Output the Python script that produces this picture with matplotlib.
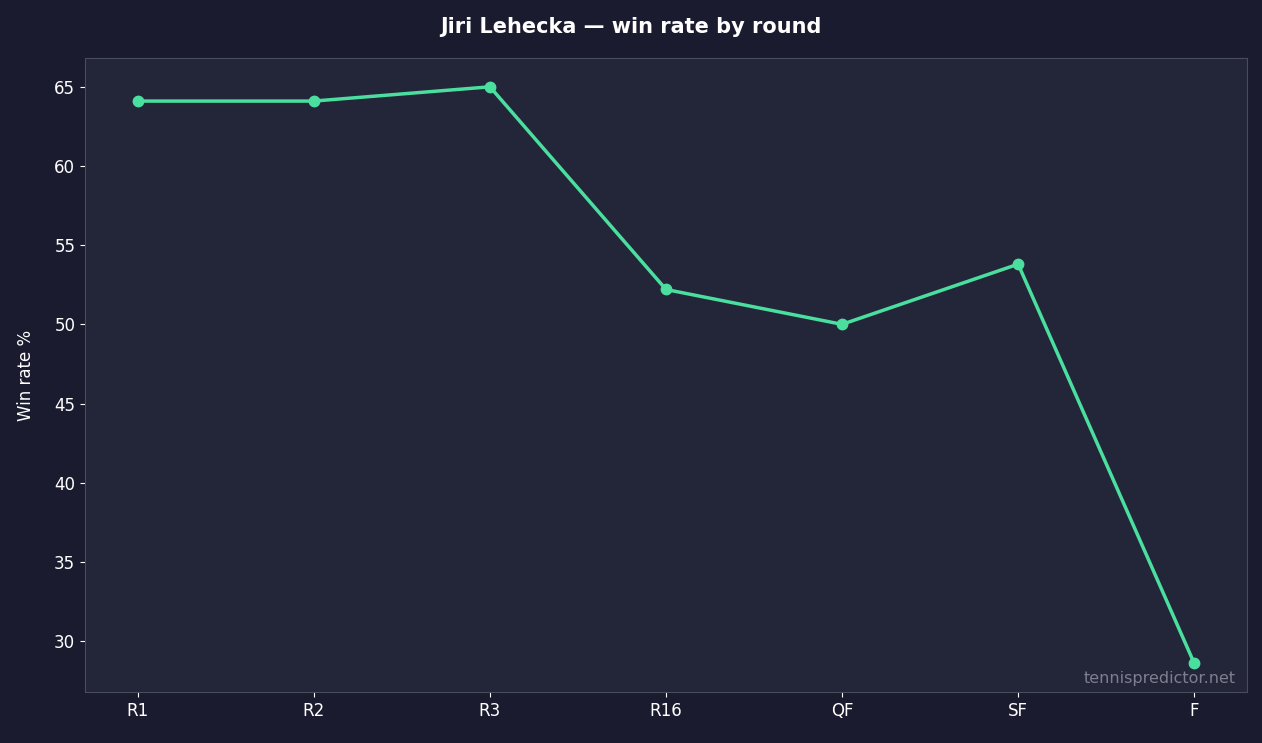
import matplotlib
matplotlib.use("Agg")
import matplotlib.pyplot as plt

rounds = ["R1", "R2", "R3", "R16", "QF", "SF", "F"]
win_rate = [64.1, 64.1, 65.0, 52.2, 50.0, 53.8, 28.6]

BG = "#1a1b2e"
AX_BG = "#232538"
LINE = "#4ade9f"

fig = plt.figure(figsize=(12.62, 7.43), dpi=100, facecolor=BG)
ax = fig.add_axes([85 / 1262, 1 - 692 / 743, (1247 - 85) / 1262, (692 - 58) / 743])
ax.set_facecolor(AX_BG)

ax.plot(rounds, win_rate, color=LINE, linewidth=2.5, marker="o", markersize=7.5)

for s in ax.spines.values():
    s.set_color("#4a4c5c")
ax.tick_params(colors="white", labelsize=12)
ax.set_ylabel("Win rate %", color="white", fontsize=12, labelpad=14)
fig.suptitle("Jiri Lehecka — win rate by round", color="white", fontsize=15,
             fontweight="bold", y=0.977)
ax.text(0.99, 0.01, "tennispredictor.net", transform=ax.transAxes, ha="right",
        va="bottom", color="#7e7e90", fontsize=11.5)

fig.savefig("out.png", dpi=100, facecolor=BG)
